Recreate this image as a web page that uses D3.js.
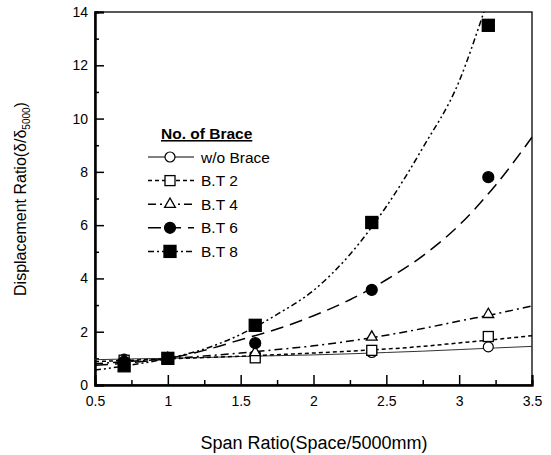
<!DOCTYPE html>
<html>
<head>
<meta charset="utf-8">
<script src="https://cdn.jsdelivr.net/npm/d3@7"></script>
<style>
  body { margin: 0; background: #fff; }
  text { font-family: "Liberation Sans", Arial, sans-serif; fill: #000; }
</style>
</head>
<body>
<svg id="chart"></svg>
<script>
// measured points (span ratio vs displacement ratio)
var spanRatios = [0.7, 1.0, 1.6, 2.4, 3.2];
var woBrace = [0.97, 1.0, 1.1, 1.22, 1.43];
var bt2 = [0.93, 1.0, 1.02, 1.3, 1.82];
var bt4 = [0.9, 1.0, 1.22, 1.8, 2.65];
var bt6 = [0.88, 1.0, 1.57, 3.57, 7.8];
var bt8 = [0.72, 1.0, 2.24, 6.1, 13.5];

// fitted trend curves
var fitX = [0.5, 0.75, 1.0, 1.25, 1.5, 1.75, 2.0, 2.25, 2.5, 2.75, 3.0, 3.25, 3.5];
var fitWo = [0.95, 0.98, 1.0, 1.03, 1.07, 1.1, 1.13, 1.17, 1.22, 1.27, 1.33, 1.39, 1.45];
var fitBt2 = [0.88, 0.93, 0.98, 1.03, 1.08, 1.14, 1.2, 1.27, 1.35, 1.45, 1.58, 1.71, 1.85];
var fitBt4 = [0.8, 0.89, 0.98, 1.09, 1.2, 1.33, 1.47, 1.65, 1.87, 2.12, 2.4, 2.67, 2.97];
var fitBt6 = [0.74, 0.84, 1.0, 1.3, 1.7, 2.1, 2.6, 3.2, 3.95, 4.85, 6.0, 7.5, 9.3];
var fitBt8X = [0.5, 0.75, 1.0, 1.25, 1.5, 1.75, 2.0, 2.25, 2.5, 2.75, 3.0, 3.17, 3.25];
var fitBt8 = [0.56, 0.75, 1.0, 1.35, 1.9, 2.65, 3.55, 4.9, 6.7, 8.9, 11.4, 14.0, 15.3];

var xTicks = [0.5, 1, 1.5, 2, 2.5, 3, 3.5];
var yTicks = [0, 2, 4, 6, 8, 10, 12, 14];
var legendLabels = ["w/o Brace", "B.T 2", "B.T 4", "B.T 6", "B.T 8"];

var series = [
    { name: legendLabels[0], pts: woBrace, fx: fitX, fy: fitWo, sym: "circle", fill: "#fff", dash: null },
    { name: legendLabels[1], pts: bt2, fx: fitX, fy: fitBt2, sym: "square", fill: "#fff", dash: "4,3" },
    { name: legendLabels[2], pts: bt4, fx: fitX, fy: fitBt4, sym: "triangle", fill: "#fff", dash: "8,4,2,4" },
    { name: legendLabels[3], pts: bt6, fx: fitX, fy: fitBt6, sym: "circle", fill: "#000", dash: "13,7" },
    { name: legendLabels[4], pts: bt8, fx: fitBt8X, fy: fitBt8, sym: "square", fill: "#000", dash: "6,3,2,3,2,3" }
];

var width = 551, height = 455;
var margin = { left: 95, right: 19, top: 12, bottom: 70 };

var svg = d3.select("#chart").attr("width", width).attr("height", height);

var xScale = d3.scaleLinear().domain([0.5, 3.5]).range([margin.left, width - margin.right]);
var yScale = d3.scaleLinear().domain([0, 14]).range([height - margin.bottom, margin.top]);

svg.append("clipPath").attr("id", "plotClip")
  .append("rect")
    .attr("x", xScale(0.5)).attr("y", yScale(14))
    .attr("width", xScale(3.5) - xScale(0.5))
    .attr("height", yScale(0) - yScale(14));

// frame
svg.append("rect")
    .attr("x", xScale(0.5)).attr("y", yScale(14))
    .attr("width", xScale(3.5) - xScale(0.5))
    .attr("height", yScale(0) - yScale(14))
    .attr("fill", "none").attr("stroke", "#000").attr("stroke-width", 1.3);

// axes with inward ticks
var yAxis = d3.axisLeft(yScale).tickValues(yTicks).tickSize(-9).tickPadding(7).tickFormat(d3.format("d"));
var yMinor = d3.axisLeft(yScale).tickValues(d3.range(1, 14, 2)).tickSize(-4).tickFormat("");
var xAxis = d3.axisBottom(xScale).tickValues(xTicks).tickSize(-10).tickPadding(11).tickFormat(function (d) { return String(d); });
var xMinor = d3.axisBottom(xScale).tickValues([0.75, 1.25, 1.75, 2.25, 2.75, 3.25]).tickSize(-5).tickFormat("");

function styleAxis(g) {
    g.select(".domain").attr("stroke-width", 2);
    g.selectAll(".tick line").attr("stroke-width", 1.5);
    g.selectAll("text").style("font-size", "14px").attr("font-family", null);
}

svg.append("g").attr("transform", "translate(" + xScale(0.5) + ",0)").call(yAxis).call(styleAxis);
svg.append("g").attr("transform", "translate(" + xScale(0.5) + ",0)").call(yMinor).call(styleAxis);
svg.append("g").attr("transform", "translate(0," + yScale(0) + ")").call(xAxis).call(styleAxis);
svg.append("g").attr("transform", "translate(0," + yScale(0) + ")").call(xMinor).call(styleAxis);

// fit lines
var line = d3.line()
    .x(function (d) { return xScale(d[0]); })
    .y(function (d) { return yScale(d[1]); })
    .curve(d3.curveMonotoneX);

var plot = svg.append("g").attr("clip-path", "url(#plotClip)");

series.forEach(function (s) {
    plot.append("path")
        .datum(d3.zip(s.fx, s.fy))
        .attr("d", line)
        .attr("fill", "none")
        .attr("stroke", s.dash ? "#000" : "#333")
        .attr("stroke-width", s.dash ? 1.5 : 1)
        .attr("stroke-dasharray", s.dash);
});

// markers
function marker(g, sym, fill, cx, cy) {
    if (sym === "circle") {
        g.append("circle").attr("cx", cx).attr("cy", cy).attr("r", fill === "#000" ? 5.5 : 5)
            .attr("fill", fill).attr("stroke", "#000").attr("stroke-width", 1.2);
    } else if (sym === "square") {
        var s = fill === "#000" ? 12 : 10;
        g.append("rect").attr("x", cx - s / 2).attr("y", cy - s / 2).attr("width", s).attr("height", s)
            .attr("fill", fill).attr("stroke", "#000").attr("stroke-width", 1.3);
    } else {
        g.append("path").attr("transform", "translate(" + cx + "," + cy + ")")
            .attr("d", d3.symbol(d3.symbolTriangle, 50)())
            .attr("fill", fill).attr("stroke", "#000").attr("stroke-width", 1.3);
    }
}

var markers = svg.append("g");
series.forEach(function (s) {
    s.pts.forEach(function (v, i) {
        marker(markers, s.sym, s.fill, xScale(spanRatios[i]), yScale(v));
    });
});

// legend
var legend = svg.append("g").attr("transform", "translate(148,139)");
legend.append("text")
    .attr("x", 13).attr("y", 0)
    .style("font-size", "15.5px").style("font-weight", "bold")
    .style("text-decoration", "underline")
    .text("No. of Brace");

series.forEach(function (s, i) {
    var y = 18 + i * 23.6;
    legend.append("line")
        .attr("x1", 0).attr("x2", 46).attr("y1", y).attr("y2", y)
        .attr("stroke", "#000").attr("stroke-width", s.dash ? 1.5 : 1)
        .attr("stroke-dasharray", s.dash);
    marker(legend, s.sym, s.fill, 22, y);
    legend.append("text")
        .attr("x", 53).attr("y", y + 5.5)
        .style("font-size", "15.5px")
        .text(s.name);
});

// axis titles
svg.append("text")
    .attr("x", 314).attr("y", 449)
    .attr("text-anchor", "middle")
    .style("font-size", "18px")
    .text("Span Ratio(Space/5000mm)");

var yTitle = svg.append("text")
    .attr("transform", "translate(26,199) rotate(-90)")
    .attr("text-anchor", "middle")
    .style("font-size", "16px");
yTitle.append("tspan").text("Displacement Ratio(δ/δ");
yTitle.append("tspan").attr("dy", 4).style("font-size", "10px").text("5000");
yTitle.append("tspan").attr("dy", -4).text(")");
</script>
</body>
</html>
